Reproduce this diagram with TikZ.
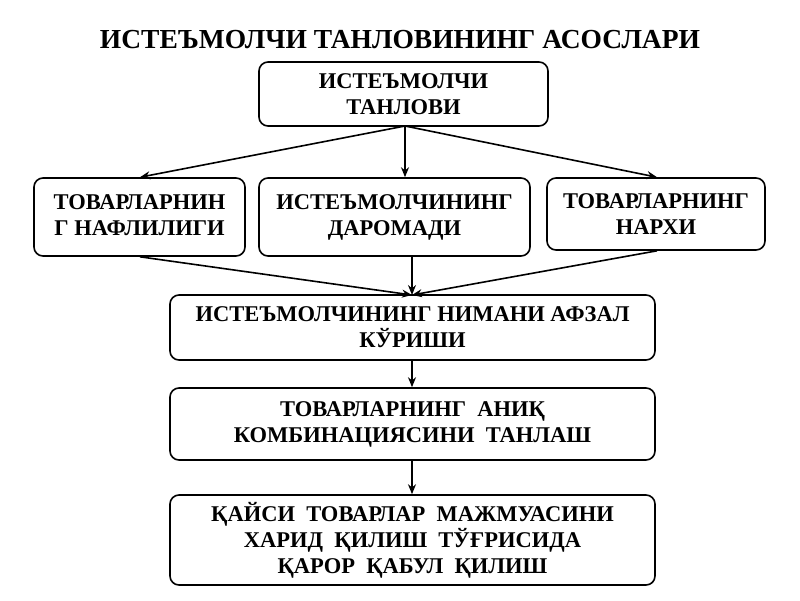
\documentclass[tikz,border=0pt]{standalone}
\usepackage{fontspec}
\setmainfont{Liberation Serif}
\usetikzlibrary{arrows.meta}
\newcommand{\uptwo}[2]{\raisebox{6pt}{\begin{tabular}{@{}c@{}}#1\\#2\end{tabular}}}
\begin{document}
\begin{tikzpicture}[x=1pt,y=-1pt,
  box/.style={draw,line width=1.6pt,rounded corners=9pt,align=center,font=\fontsize{22.5}{26}\selectfont\bfseries,inner sep=0pt},
  arr/.style={line width=1.6pt,-{Stealth[length=10pt,width=8pt]}}]
\useasboundingbox (0,0) rectangle (800,600);
\node[font=\fontsize{27.5}{30}\selectfont\bfseries] (title) at (400,40) {ИСТЕЪМОЛЧИ ТАНЛОВИНИНГ АСОСЛАРИ};
\node[box,minimum width=289pt,minimum height=64pt] (top) at (403.5,94) {ИСТЕЪМОЛЧИ\\ТАНЛОВИ};
\node[box,minimum width=211pt,minimum height=78pt] (a) at (139.5,217) {\uptwo{ТОВАРЛАРНИН}{Г НАФЛИЛИГИ}};
\node[box,minimum width=271pt,minimum height=78pt] (b) at (394.5,217) {\uptwo{ИСТЕЪМОЛЧИНИНГ}{ДАРОМАДИ}};
\node[box,minimum width=218pt,minimum height=72pt] (c) at (656,214) {ТОВАРЛАРНИНГ\\НАРХИ};
\node[box,minimum width=485pt,minimum height=65pt] (d) at (412.5,327.5) {ИСТЕЪМОЛЧИНИНГ НИМАНИ АФЗАЛ\\КЎРИШИ};
\node[box,minimum width=485pt,minimum height=72pt] (e) at (412.5,424) {ТОВАРЛАРНИНГ\ \ АНИҚ\\КОМБИНАЦИЯСИНИ\ \ ТАНЛАШ};
\node[box,minimum width=485pt,minimum height=90pt] (f) at (412.5,540) {ҚАЙСИ\ \ ТОВАРЛАР\ \ МАЖМУАСИНИ\\ХАРИД\ \ ҚИЛИШ\ \ ТЎҒРИСИДА\ \ \\ҚАРОР\ \ ҚАБУЛ\ \ ҚИЛИШ};
\coordinate (t0) at (405,126);
\draw[arr] (t0) -- (a.north -| 140,0);
\draw[arr] (t0) -- (b.north -| 405,0);
\draw[arr] (t0) -- (c.north -| 657,0);
\coordinate (d0) at (412,295);
\draw[arr] (a.south -| 140,0) -- (d0);
\draw[arr] (b.south -| 412,0) -- (d0);
\draw[arr] (c.south -| 657,0) -- (d0);
\draw[arr] (d.south -| 412,0) -- (e.north -| 412,0);
\draw[arr] (e.south -| 412,0) -- (f.north -| 412,0);
\end{tikzpicture}
\end{document}
